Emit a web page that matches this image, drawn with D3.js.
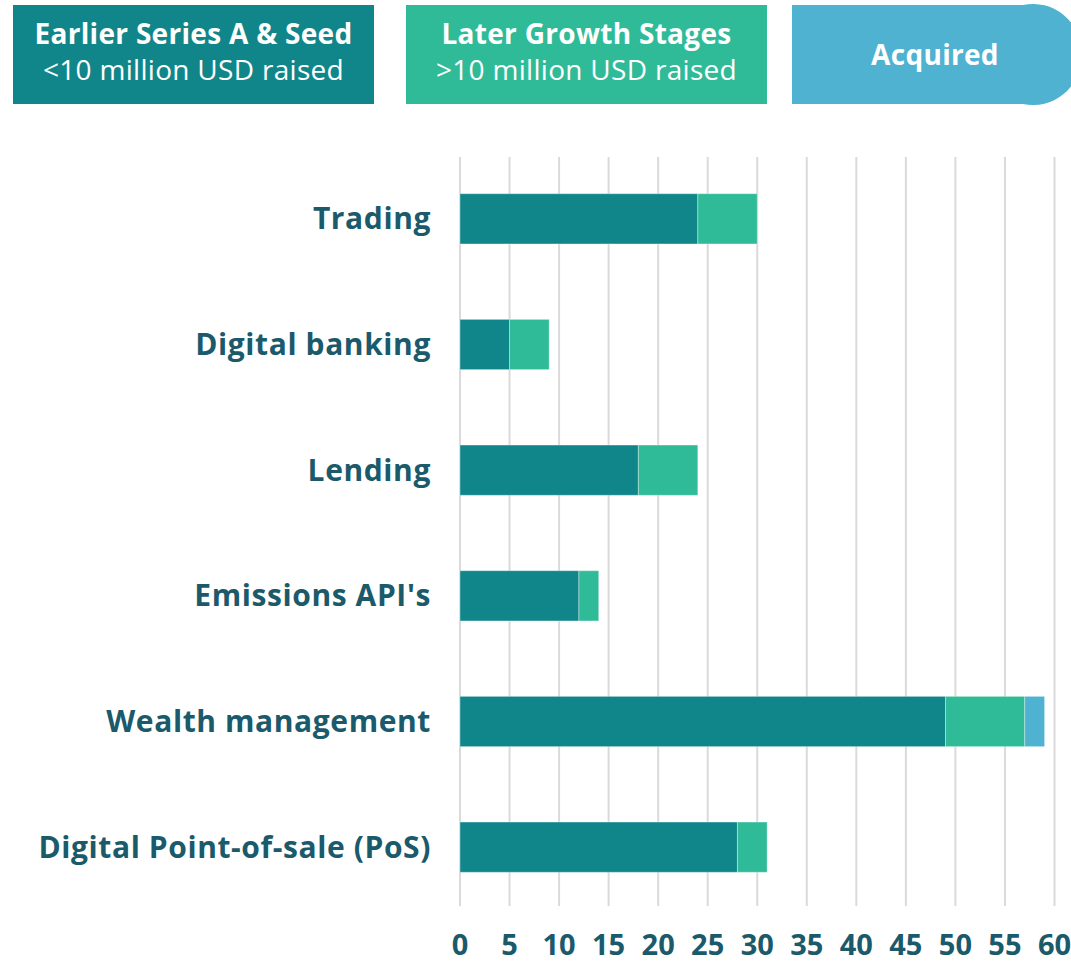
<!DOCTYPE html>
<html>
<head>
<meta charset="utf-8">
<script src="https://cdn.jsdelivr.net/npm/d3@7"></script>
<style>
  body { margin: 0; background: #fff; }
  svg { display: block; font-family: "Open Sans", sans-serif; }
</style>
</head>
<body>
<svg id="chart"></svg>
<script>
// 数据
var categories = ["Trading", "Digital banking", "Lending", "Emissions API's", "Wealth management", "Digital Point-of-sale (PoS)"];
var earlier = [24, 5, 18, 12, 49, 28];
var later = [6, 4, 6, 2, 8, 3];
var acquired = [0, 0, 0, 0, 2, 0];
var xTicks = [0, 5, 10, 15, 20, 25, 30, 35, 40, 45, 50, 55, 60];
var legendLines = [
    ["Earlier Series A & Seed", "<10 million USD raised"],
    ["Later Growth Stages", ">10 million USD raised"],
    ["Acquired"]
];

var width = 1071;
var height = 963;
var colors = ["#11868a", "#30bb98", "#4fb2d1"];
var textColor = "#1a5a6b";

var svg = d3.select("#chart")
    .attr("width", width)
    .attr("height", height);

// 比例尺
var x = d3.scaleLinear()
    .domain([0, 60])
    .range([460, 1054.5]);

var y = d3.scaleBand()
    .domain(categories)
    .range([156, 910])
    .paddingInner(0.6)
    .paddingOuter(0.3);

// 网格线
svg.append("g")
    .selectAll("line")
    .data(xTicks)
    .join("line")
    .attr("x1", d => x(d))
    .attr("x2", d => x(d))
    .attr("y1", 157)
    .attr("y2", 906)
    .attr("stroke", "#dadada")
    .attr("stroke-width", 2);

// 堆叠数据
var rows = categories.map((c, i) => ({cat: c, earlier: earlier[i], later: later[i], acquired: acquired[i]}));
var stack = d3.stack().keys(["earlier", "later", "acquired"]);
var series = stack(rows);

svg.append("g")
    .selectAll("g")
    .data(series)
    .join("g")
    .attr("fill", (d, i) => colors[i])
    .selectAll("rect")
    .data(d => d.filter(p => p[1] > p[0]))
    .join("rect")
    .attr("x", d => x(d[0]))
    .attr("y", d => y(d.data.cat))
    .attr("width", d => x(d[1]) - x(d[0]))
    .attr("height", y.bandwidth())
    .attr("stroke", "rgba(255,255,255,0.35)")
    .attr("stroke-width", 1);

// 类别标签
svg.append("g")
    .selectAll("text")
    .data(categories)
    .join("text")
    .attr("x", 431)
    .attr("y", d => y(d) + y.bandwidth() / 2)
    .attr("dy", "0.35em")
    .attr("text-anchor", "end")
    .attr("fill", textColor)
    .attr("font-size", 30)
    .attr("letter-spacing", 0.6)
    .attr("font-weight", "bold")
    .text(d => d);

// x 轴标签
svg.append("g")
    .selectAll("text")
    .data(xTicks)
    .join("text")
    .attr("x", d => x(d))
    .attr("y", 955)
    .attr("text-anchor", "middle")
    .attr("fill", textColor)
    .attr("font-size", 29)
    .attr("font-weight", "bold")
    .text(d => d);

// 图例
var boxes = [
    {x: 13, w: 361},
    {x: 406, w: 361},
    {x: 792, w: 330}
];

boxes.forEach((b, i) => {
    if (i < 2) {
        svg.append("rect")
            .attr("x", b.x)
            .attr("y", 5)
            .attr("width", b.w)
            .attr("height", 99)
            .attr("fill", colors[i]);
    } else {
        var r = 48;
        svg.append("path")
            .attr("d", `M${b.x},5 H${width - r} A${r},${r} 0 0 1 ${width + 10},${5 + r} V${104 - r} A${r},${r} 0 0 1 ${width - r},104 H${b.x} Z`)
            .attr("fill", colors[i]);
    }
    var cx = i < 2 ? b.x + b.w / 2 : 935;
    var lines = legendLines[i];
    if (lines.length === 2) {
        svg.append("text")
            .attr("x", cx).attr("y", 44)
            .attr("text-anchor", "middle")
            .attr("fill", "#fff")
            .attr("font-size", 28)
            .attr("letter-spacing", 0.3)
            .attr("font-weight", "bold")
            .text(lines[0]);
        svg.append("text")
            .attr("x", cx).attr("y", 80)
            .attr("text-anchor", "middle")
            .attr("fill", "#fff")
            .attr("font-size", 28)
            .attr("letter-spacing", 0.3)
            .text(lines[1]);
    } else {
        svg.append("text")
            .attr("x", cx).attr("y", 65)
            .attr("text-anchor", "middle")
            .attr("fill", "#fff")
            .attr("font-size", 28)
            .attr("letter-spacing", 0.3)
            .attr("font-weight", "bold")
            .text(lines[0]);
    }
});
</script>
</body>
</html>
